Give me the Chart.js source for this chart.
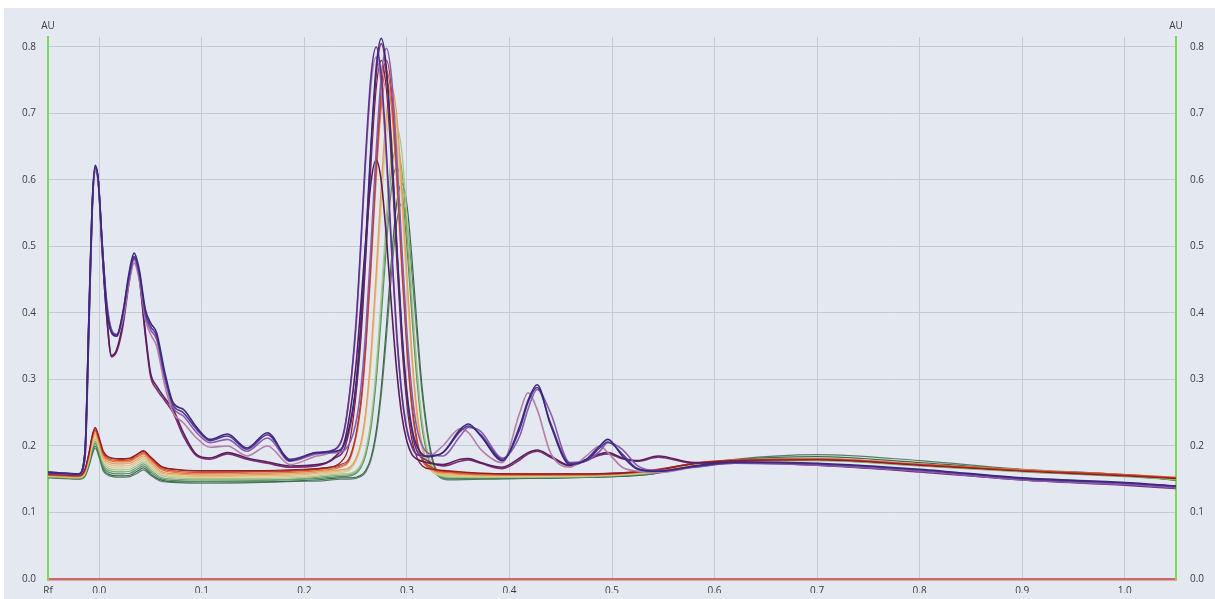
<!DOCTYPE html>
<html>
<head>
<meta charset="utf-8">
<script src="https://cdn.jsdelivr.net/npm/chart.js@4.4.1/dist/chart.umd.min.js"></script>
<style>
  html, body { margin: 0; padding: 0; background: #fff; }
  #wrap { width: 1215px; height: 599px; position: relative; }
</style>
</head>
<body>
<div id="wrap"><canvas id="densito"></canvas></div>
<script>
// Rf positions for the two groups of tracks
const rfPurple = [
  -0.05, -0.02, -0.014, -0.01, -0.007, -0.004, -0.001, 0.003, 0.007, 0.012,
  0.017, 0.023, 0.029, 0.034, 0.039, 0.045, 0.05, 0.056, 0.064, 0.072,
  0.082, 0.095, 0.108, 0.125, 0.144, 0.164, 0.186, 0.212, 0.23, 0.24,
  0.25, 0.255, 0.26, 0.265, 0.27, 0.275, 0.28, 0.285, 0.29, 0.295,
  0.30, 0.305, 0.31, 0.32, 0.335, 0.352, 0.36, 0.372, 0.393, 0.41,
  0.418, 0.427, 0.44, 0.459, 0.475, 0.488, 0.496, 0.51, 0.525, 0.545,
  0.58, 0.62, 0.70, 0.80, 0.90, 1.00, 1.05
]
const rfColour = [
  -0.05, -0.02, -0.014, -0.01, -0.007, -0.004, 0, 0.004, 0.01, 0.02,
  0.03, 0.037, 0.043, 0.05, 0.06, 0.075, 0.10, 0.15, 0.20, 0.22,
  0.235, 0.245, 0.255, 0.26, 0.265, 0.27, 0.275, 0.28, 0.285, 0.29,
  0.295, 0.30, 0.305, 0.31, 0.315, 0.325, 0.34, 0.40, 0.48, 0.54,
  0.58, 0.62, 0.70, 0.80, 0.90, 1.00, 1.05
]

// AU values, purple tracks
const p1 = [0.160, 0.158, 0.19, 0.40, 0.56, 0.622, 0.60, 0.50, 0.41, 0.37, 0.365, 0.40, 0.46, 0.49, 0.465, 0.405, 0.385, 0.37, 0.31, 0.265, 0.255, 0.228, 0.21, 0.218, 0.197, 0.22, 0.178, 0.19,
  0.192, 0.207, 0.288, 0.381, 0.51, 0.654, 0.769, 0.813, 0.768, 0.651, 0.506, 0.375, 0.281, 0.226, 0.199, 0.184,
  0.19, 0.225, 0.233, 0.215, 0.178, 0.23, 0.268, 0.292, 0.232, 0.172, 0.18, 0.2, 0.21, 0.185, 0.165, 0.162, 0.17, 0.176, 0.174, 0.165, 0.152, 0.145, 0.14]
const p2 = [0.161, 0.158, 0.185, 0.39, 0.55, 0.618, 0.60, 0.50, 0.415, 0.372, 0.367, 0.40, 0.455, 0.485, 0.46, 0.40, 0.38, 0.365, 0.305, 0.262, 0.25, 0.225, 0.208, 0.215, 0.195, 0.217, 0.18, 0.19,
  0.195, 0.233, 0.377, 0.504, 0.644, 0.757, 0.80, 0.756, 0.642, 0.50, 0.371, 0.279, 0.225, 0.199, 0.187, 0.185,
  0.19, 0.222, 0.23, 0.217, 0.18, 0.225, 0.265, 0.288, 0.235, 0.174, 0.178, 0.197, 0.206, 0.188, 0.166, 0.162, 0.169, 0.175, 0.173, 0.164, 0.151, 0.144, 0.139]
const p3 = [0.159, 0.157, 0.18, 0.38, 0.55, 0.615, 0.598, 0.50, 0.42, 0.375, 0.368, 0.395, 0.45, 0.48, 0.455, 0.395, 0.375, 0.36, 0.30, 0.258, 0.245, 0.22, 0.205, 0.21, 0.192, 0.212, 0.177, 0.188,
  0.19, 0.195, 0.233, 0.285, 0.376, 0.503, 0.642, 0.755, 0.798, 0.754, 0.64, 0.499, 0.37, 0.279, 0.225, 0.19,
  0.185, 0.215, 0.228, 0.222, 0.182, 0.215, 0.255, 0.285, 0.25, 0.175, 0.178, 0.192, 0.205, 0.195, 0.17, 0.163, 0.168, 0.174, 0.171, 0.162, 0.149, 0.142, 0.137]
const p4 = [0.160, 0.158, 0.18, 0.38, 0.55, 0.612, 0.595, 0.50, 0.42, 0.372, 0.365, 0.39, 0.445, 0.475, 0.45, 0.39, 0.368, 0.35, 0.29, 0.25, 0.235, 0.212, 0.198, 0.2, 0.185, 0.2, 0.172, 0.185,
  0.195, 0.232, 0.372, 0.496, 0.633, 0.744, 0.785, 0.742, 0.631, 0.492, 0.366, 0.276, 0.223, 0.198, 0.187, 0.184,
  0.2, 0.226, 0.22, 0.195, 0.175, 0.25, 0.28, 0.255, 0.19, 0.168, 0.185, 0.2, 0.19, 0.168, 0.162, 0.16, 0.168, 0.174, 0.172, 0.163, 0.15, 0.143, 0.138]
const p5 = [0.160, 0.157, 0.19, 0.40, 0.56, 0.62, 0.60, 0.49, 0.40, 0.336, 0.345, 0.385, 0.45, 0.485, 0.455, 0.37, 0.31, 0.29, 0.272, 0.255, 0.22, 0.187, 0.182, 0.19, 0.182, 0.176, 0.17, 0.172,
  0.184, 0.212, 0.317, 0.41, 0.512, 0.597, 0.63, 0.598, 0.514, 0.409, 0.314, 0.246, 0.207, 0.187, 0.18, 0.175,
  0.172, 0.18, 0.181, 0.175, 0.168, 0.182, 0.19, 0.194, 0.185, 0.171, 0.18, 0.188, 0.19, 0.182, 0.178, 0.185, 0.175, 0.176, 0.172, 0.162, 0.15, 0.142, 0.137]
const p6 = [0.161, 0.158, 0.188, 0.395, 0.555, 0.618, 0.598, 0.49, 0.40, 0.334, 0.342, 0.38, 0.445, 0.482, 0.452, 0.365, 0.305, 0.285, 0.268, 0.25, 0.215, 0.185, 0.18, 0.188, 0.18, 0.174, 0.168, 0.17,
  0.182, 0.2, 0.282, 0.375, 0.503, 0.645, 0.758, 0.805, 0.76, 0.644, 0.499, 0.368, 0.274, 0.219, 0.192, 0.178,
  0.17, 0.177, 0.179, 0.174, 0.166, 0.179, 0.188, 0.192, 0.183, 0.17, 0.178, 0.186, 0.188, 0.181, 0.177, 0.183, 0.174, 0.175, 0.171, 0.161, 0.149, 0.141, 0.136]

// AU values, red -> green tracks
const c1 = [0.158, 0.156, 0.165, 0.19, 0.215, 0.228, 0.212, 0.192, 0.183, 0.181, 0.182, 0.188, 0.193, 0.184, 0.17, 0.165, 0.163, 0.163, 0.165,
  0.167, 0.175, 0.213, 0.357, 0.484, 0.624, 0.737, 0.78, 0.736, 0.623, 0.481, 0.353, 0.262, 0.208, 0.182, 0.17, 0.165, 0.162,
  0.158, 0.158, 0.163, 0.173, 0.178, 0.179, 0.171, 0.162, 0.155, 0.151]
const c2 = [0.157, 0.155, 0.164, 0.19, 0.214, 0.226, 0.21, 0.19, 0.182, 0.18, 0.181, 0.187, 0.192, 0.183, 0.169, 0.164, 0.162, 0.162, 0.164,
  0.167, 0.172, 0.186, 0.266, 0.357, 0.484, 0.624, 0.737, 0.78, 0.736, 0.623, 0.481, 0.353, 0.262, 0.208, 0.182, 0.167, 0.163,
  0.158, 0.158, 0.164, 0.174, 0.178, 0.18, 0.172, 0.163, 0.156, 0.152]
const c3 = [0.157, 0.155, 0.163, 0.188, 0.212, 0.224, 0.208, 0.188, 0.18, 0.178, 0.179, 0.185, 0.19, 0.181, 0.167, 0.162, 0.16, 0.161, 0.163,
  0.166, 0.17, 0.184, 0.262, 0.351, 0.475, 0.612, 0.723, 0.765, 0.722, 0.611, 0.472, 0.347, 0.258, 0.205, 0.179, 0.165, 0.161,
  0.157, 0.157, 0.163, 0.174, 0.179, 0.18, 0.172, 0.163, 0.157, 0.152]
const c4 = [0.156, 0.154, 0.162, 0.186, 0.21, 0.222, 0.206, 0.186, 0.178, 0.176, 0.177, 0.183, 0.188, 0.179, 0.165, 0.16, 0.158, 0.159, 0.161,
  0.164, 0.168, 0.182, 0.258, 0.345, 0.466, 0.60, 0.709, 0.75, 0.708, 0.599, 0.464, 0.342, 0.254, 0.203, 0.178, 0.164, 0.16,
  0.156, 0.157, 0.163, 0.174, 0.179, 0.181, 0.173, 0.164, 0.157, 0.153]
const c5 = [0.156, 0.154, 0.161, 0.184, 0.207, 0.219, 0.203, 0.183, 0.175, 0.173, 0.174, 0.18, 0.185, 0.176, 0.162, 0.158, 0.156, 0.157, 0.159,
  0.162, 0.164, 0.169, 0.204, 0.254, 0.34, 0.46, 0.593, 0.699, 0.74, 0.699, 0.592, 0.458, 0.337, 0.251, 0.201, 0.165, 0.158,
  0.156, 0.156, 0.162, 0.173, 0.178, 0.18, 0.172, 0.164, 0.157, 0.153]
const c6 = [0.155, 0.153, 0.16, 0.182, 0.204, 0.216, 0.2, 0.18, 0.172, 0.17, 0.171, 0.177, 0.182, 0.173, 0.16, 0.156, 0.154, 0.155, 0.157,
  0.16, 0.162, 0.167, 0.201, 0.25, 0.333, 0.449, 0.577, 0.68, 0.72, 0.68, 0.576, 0.447, 0.33, 0.246, 0.197, 0.162, 0.156,
  0.155, 0.156, 0.162, 0.173, 0.178, 0.18, 0.172, 0.163, 0.156, 0.152]
const c7 = [0.155, 0.153, 0.159, 0.18, 0.201, 0.213, 0.197, 0.177, 0.169, 0.167, 0.168, 0.174, 0.179, 0.17, 0.158, 0.154, 0.153, 0.153, 0.155,
  0.158, 0.16, 0.165, 0.198, 0.245, 0.325, 0.438, 0.562, 0.662, 0.70, 0.661, 0.561, 0.436, 0.322, 0.241, 0.194, 0.16, 0.155,
  0.154, 0.155, 0.161, 0.172, 0.177, 0.179, 0.171, 0.162, 0.156, 0.151]
const c8 = [0.154, 0.152, 0.158, 0.178, 0.198, 0.21, 0.194, 0.174, 0.166, 0.164, 0.165, 0.171, 0.176, 0.167, 0.156, 0.152, 0.151, 0.151, 0.153,
  0.156, 0.158, 0.159, 0.172, 0.195, 0.24, 0.318, 0.426, 0.546, 0.643, 0.68, 0.643, 0.546, 0.425, 0.316, 0.237, 0.169, 0.154,
  0.153, 0.155, 0.16, 0.172, 0.177, 0.179, 0.171, 0.162, 0.155, 0.15]
const c9 = [0.154, 0.152, 0.157, 0.176, 0.195, 0.207, 0.191, 0.171, 0.163, 0.161, 0.162, 0.168, 0.173, 0.164, 0.153, 0.15, 0.149, 0.149, 0.151,
  0.154, 0.156, 0.157, 0.169, 0.191, 0.234, 0.307, 0.41, 0.524, 0.615, 0.65, 0.615, 0.523, 0.409, 0.306, 0.232, 0.167, 0.153,
  0.153, 0.154, 0.16, 0.171, 0.177, 0.178, 0.17, 0.161, 0.154, 0.149]
const c10 = [0.153, 0.151, 0.156, 0.174, 0.192, 0.204, 0.188, 0.168, 0.16, 0.158, 0.159, 0.165, 0.17, 0.161, 0.151, 0.148, 0.147, 0.148, 0.15,
  0.152, 0.154, 0.155, 0.167, 0.187, 0.227, 0.297, 0.394, 0.501, 0.587, 0.62, 0.587, 0.50, 0.393, 0.295, 0.225, 0.165, 0.151,
  0.152, 0.154, 0.159, 0.171, 0.178, 0.181, 0.172, 0.162, 0.155, 0.149]
const c11 = [0.153, 0.151, 0.155, 0.172, 0.189, 0.2, 0.185, 0.165, 0.157, 0.155, 0.156, 0.162, 0.167, 0.158, 0.149, 0.146, 0.146, 0.146, 0.148,
  0.15, 0.152, 0.152, 0.156, 0.164, 0.183, 0.222, 0.288, 0.38, 0.482, 0.564, 0.595, 0.563, 0.481, 0.379, 0.286, 0.181, 0.151,
  0.151, 0.153, 0.158, 0.171, 0.179, 0.184, 0.175, 0.164, 0.156, 0.149]
const c12 = [0.152, 0.15, 0.154, 0.17, 0.186, 0.197, 0.182, 0.162, 0.155, 0.153, 0.154, 0.159, 0.164, 0.156, 0.147, 0.145, 0.144, 0.145, 0.147,
  0.148, 0.15, 0.15, 0.154, 0.161, 0.179, 0.215, 0.277, 0.363, 0.459, 0.536, 0.565, 0.535, 0.458, 0.362, 0.276, 0.177, 0.149,
  0.151, 0.153, 0.158, 0.171, 0.18, 0.187, 0.178, 0.165, 0.157, 0.148]

const xTicks = [-0.05, 0.0, 0.1, 0.2, 0.3, 0.4, 0.5, 0.6, 0.7, 0.8, 0.9, 1.0]
const yTicks = [0.0, 0.1, 0.2, 0.3, 0.4, 0.5, 0.6, 0.7, 0.8]

const purpleTracks = [p1, p2, p3, p4, p5, p6]
const purpleColours = ['#3a2a7c', '#5b3494', '#8a5cb0', '#b57fa8', '#5a1e5e', '#7c2f72']
const colourTracks = [c1, c2, c3, c4, c5, c6, c7, c8, c9, c10, c11, c12]
const trackColours = ['#8e1b2c', '#b8322a', '#d0542a', '#e27a36', '#eb9c52', '#e4bc78',
  '#d6cf92', '#a9c48a', '#77a86c', '#4f8d5e', '#3b6b4d', '#5f7a66']

const toPoints = (rf, au) => rf.map((x, i) => ({ x, y: au[i] }))

const datasets = []
purpleTracks.forEach((au, i) => datasets.push({
  data: toPoints(rfPurple, au), borderColor: purpleColours[i], borderWidth: 1.6,
}))
colourTracks.forEach((au, i) => datasets.push({
  data: toPoints(rfColour, au), borderColor: trackColours[i], borderWidth: 1.2,
}))

const tickFont = { family: 'Open Sans', size: 10 }
const tickColour = '#3c3c3c'

const panel = {
  id: 'panel',
  beforeDraw(chart) {
    const c = chart.ctx
    c.save()
    c.fillStyle = '#e3e8f1'
    c.fillRect(4, 8, chart.width - 4, chart.height - 8)
    c.restore()
  },
  afterDraw(chart) {
    const c = chart.ctx
    const a = chart.chartArea
    c.save()
    c.fillStyle = tickColour
    c.font = '10px "Open Sans"'
    c.textAlign = 'center'
    c.textBaseline = 'middle'
    c.fillText('AU', a.left, 26)
    c.fillText('AU', a.right, 26)
    c.restore()
  }
}

const setTicks = (list) => (scale) => { scale.ticks = list.map(v => ({ value: v })) }

new Chart(document.getElementById('densito'), {
  type: 'line',
  data: { datasets },
  plugins: [panel],
  options: {
    responsive: true,
    maintainAspectRatio: false,
    animation: false,
    layout: { padding: { top: 37, left: 0, right: 0, bottom: 0 } },
    elements: {
      point: { radius: 0 },
      line: { cubicInterpolationMode: 'monotone', fill: false },
    },
    plugins: { legend: { display: false }, tooltip: { enabled: false } },
    scales: {
      x: {
        type: 'linear',
        min: -0.05,
        max: 1.05,
        afterBuildTicks: setTicks(xTicks),
        afterFit: (s) => { s.height = 14 },
        border: { display: true, color: '#c96a6a', width: 2.5 },
        grid: {
          drawTicks: false,
          color: (ctx) => (ctx.tick && ctx.tick.value < 0 ? 'rgba(0,0,0,0)' : '#c4c9d3'),
        },
        ticks: {
          padding: 6,
          maxRotation: 0,
          autoSkip: false,
          font: tickFont,
          color: tickColour,
          callback: (v) => (v < 0 ? 'Rf' : v.toFixed(1)),
        },
      },
      y: {
        position: 'left',
        min: 0,
        max: 0.815,
        afterBuildTicks: setTicks(yTicks),
        afterFit: (s) => { s.width = 48 },
        border: { display: true, color: '#7ed858', width: 2 },
        grid: { drawTicks: false, color: '#c4c9d3' },
        ticks: { padding: 12, font: tickFont, color: tickColour, callback: (v) => v.toFixed(1) },
      },
      y2: {
        position: 'right',
        min: 0,
        max: 0.815,
        afterBuildTicks: setTicks(yTicks),
        afterFit: (s) => { s.width = 39 },
        border: { display: true, color: '#7ed858', width: 2 },
        grid: { display: false, drawTicks: false },
        ticks: { padding: 14, font: tickFont, color: tickColour, callback: (v) => v.toFixed(1) },
      },
    },
  },
})
</script>
</body>
</html>
